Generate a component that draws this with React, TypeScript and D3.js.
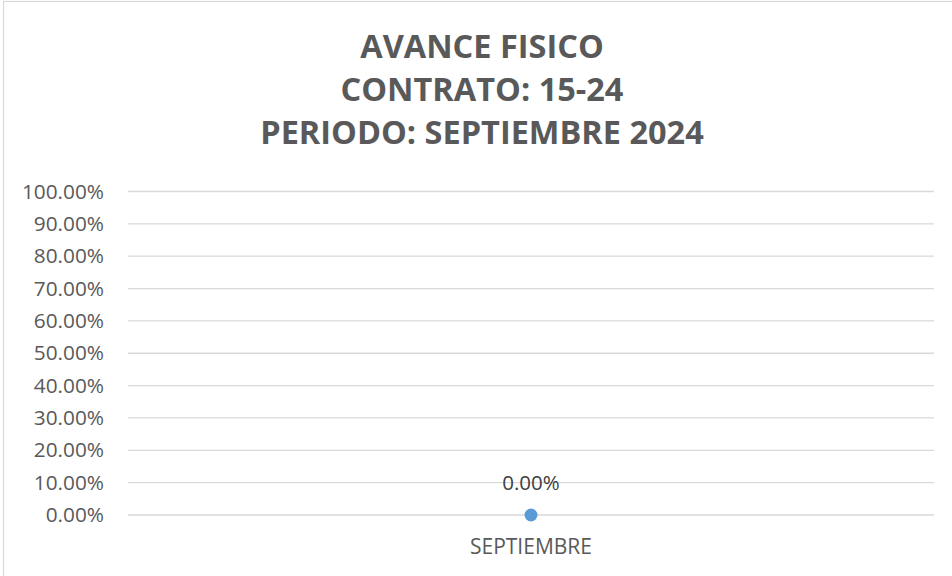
import React from "react";
import * as d3 from "d3";

const titleLines = ["AVANCE FISICO", "CONTRATO: 15-24", "PERIODO: SEPTIEMBRE 2024"];
const categories = ["SEPTIEMBRE"];
const values = [0.0];
const yTicks = [0, 0.1, 0.2, 0.3, 0.4, 0.5, 0.6, 0.7, 0.8, 0.9, 1.0];

const W = 952;
const H = 576;

export default function App() {
  const left = 128;
  const right = 934;
  const top = 191.5;
  const bottom = 515;
  const x = d3.scaleBand<string>().domain(categories).range([left, right]);
  const y = d3.scaleLinear().domain([0, 1]).range([bottom, top]);
  const fmt = (v: number) => (v * 100).toFixed(2) + "%";
  const font = "'Open Sans', sans-serif";
  const grey = "#595959";
  return (
    <svg
      width={W}
      height={H}
      style={{ position: "absolute", left: 0, top: 0, background: "#fff" }}
      fontFamily={font}
    >
      <rect x={0} y={0} width={W} height={H} fill="#fff" />
      <rect x={3.5} y={1.5} width={W + 10} height={H + 10} fill="none" stroke="#d9d9d9" strokeWidth={1.2} />
      {titleLines.map((t, i) => (
        <text
          key={i}
          x={482}
          y={58 + i * 43}
          textAnchor="middle"
          fontSize={32.5}
          fontWeight="bold"
          fill={grey}
        >
          {t}
        </text>
      ))}
      {yTicks.map((t) => (
        <g key={t}>
          <line x1={left} x2={right} y1={y(t)} y2={y(t)} stroke="#d9d9d9" strokeWidth={1.3} />
          <text x={104} y={y(t) + 7} textAnchor="end" fontSize={20.8} fill={grey}>
            {fmt(t)}
          </text>
        </g>
      ))}
      {categories.map((c) => (
        <text
          key={c}
          x={(x(c) as number) + x.bandwidth() / 2}
          y={554}
          textAnchor="middle"
          fontSize={21}
          fill={grey}
        >
          {c}
        </text>
      ))}
      {values.map((v, i) => {
        const cx = (x(categories[i]) as number) + x.bandwidth() / 2;
        const cy = y(v);
        return (
          <g key={i}>
            <circle cx={cx} cy={cy} r={6.5} fill="#5B9BD5" />
            <text x={cx} y={cy - 25} textAnchor="middle" fontSize={20.5} fill="#404040">
              {fmt(v)}
            </text>
          </g>
        );
      })}
    </svg>
  );
}
